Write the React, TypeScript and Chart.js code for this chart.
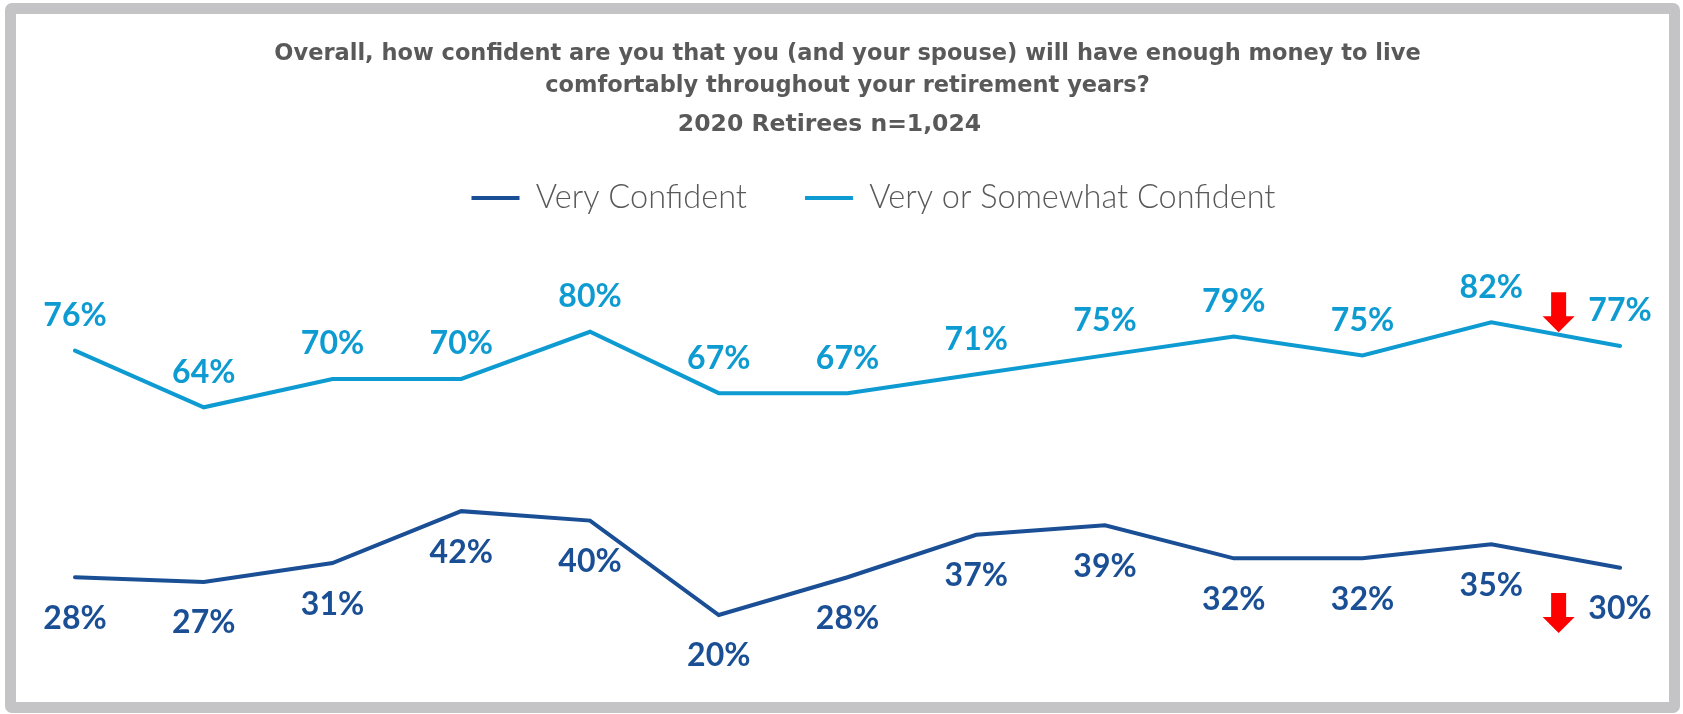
import React, { useEffect, useRef } from "react";
import { Chart, registerables } from "chart.js";

Chart.register(...registerables);

// ---- Data ----
const years = ["2008", "2009", "2010", "2011", "2012", "2013", "2014", "2015", "2016", "2017", "2018", "2019", "2020"];
const veryConfident = [28, 27, 31, 42, 40, 20, 28, 37, 39, 32, 32, 35, 30];
const veryOrSomewhatConfident = [76, 64, 70, 70, 80, 67, 67, 71, 75, 79, 75, 82, 77];
const seriesNames = ["Very Confident", "Very or Somewhat Confident"];
const titleLines = [
  "Overall, how confident are you that you (and your spouse) will have enough money to live",
  "comfortably throughout your retirement years?",
];
const subtitleText = "2020 Retirees n=1,024";
// decline arrows sit between the last two survey points
const declineFrom = 11;
const declineTo = 12;

const DARK = "#1A4F95";
const LIGHT = "#0E9BD1";
const GRAY = "#595959";
const FONT = "Lato, 'Open Sans', sans-serif";
const TITLE_FONT = "'DejaVu Sans', sans-serif";

const pointLabels = {
  id: "pointLabels",
  afterDatasetsDraw(chart: any) {
    const ctx = chart.ctx;
    chart.data.datasets.forEach((ds: any, di: number) => {
      const meta = chart.getDatasetMeta(di);
      const above = di === 1;
      ctx.save();
      ctx.font = `bold 32px ${FONT}`;
      ctx.fillStyle = ds.borderColor;
      ctx.textAlign = "center";
      ctx.textBaseline = "alphabetic";
      meta.data.forEach((pt: any, i: number) => {
        const cy = above ? pt.y - 36 : pt.y + 40;
        ctx.fillText(`${ds.data[i]}%`, pt.x, cy + 11.5);
      });
      ctx.restore();
    });
  },
};

function drawArrow(ctx: CanvasRenderingContext2D, x: number, tip: number) {
  const total = 40;
  const head = 16;
  const shaftW = 15;
  const headW = 32;
  ctx.beginPath();
  ctx.moveTo(x - shaftW / 2, tip - total);
  ctx.lineTo(x + shaftW / 2, tip - total);
  ctx.lineTo(x + shaftW / 2, tip - head);
  ctx.lineTo(x + headW / 2, tip - head);
  ctx.lineTo(x, tip);
  ctx.lineTo(x - headW / 2, tip - head);
  ctx.lineTo(x - shaftW / 2, tip - head);
  ctx.closePath();
  ctx.fill();
}

const declineArrows = {
  id: "declineArrows",
  afterDatasetsDraw(chart: any) {
    const ctx = chart.ctx;
    const xs = chart.scales.x;
    const ys = chart.scales.y;
    const x = xs.getPixelForValue((declineFrom + declineTo) / 2) + 3;
    const upperMid = (veryOrSomewhatConfident[declineFrom] + veryOrSomewhatConfident[declineTo]) / 2;
    const lowerMid = (veryConfident[declineFrom] + veryConfident[declineTo]) / 2;
    ctx.save();
    ctx.fillStyle = "#FF0000";
    drawArrow(ctx, x, ys.getPixelForValue(upperMid) - 2);
    drawArrow(ctx, x, ys.getPixelForValue(lowerMid) + 77);
    ctx.restore();
  },
};

const headerShift = {
  id: "headerShift",
  afterLayout(chart: any) {
    const lg = chart.legend;
    if (lg) {
      lg.left += 26;
      lg.right += 26;
    }
    (chart.boxes || []).forEach((b: any) => {
      if (b && b.options && b.options.text === subtitleText) {
        b.left -= 18;
        b.right -= 18;
      }
    });
  },
};

export default function App() {
  const canvasRef = useRef<HTMLCanvasElement | null>(null);

  useEffect(() => {
    if (!canvasRef.current) return;
    const chart = new Chart(canvasRef.current, {
      type: "line",
      data: {
        labels: years,
        datasets: [
          {
            label: seriesNames[0],
            data: veryConfident,
            borderColor: DARK,
            backgroundColor: DARK,
            borderWidth: 4,
            borderCapStyle: "round",
            pointRadius: 0,
            tension: 0,
          },
          {
            label: seriesNames[1],
            data: veryOrSomewhatConfident,
            borderColor: LIGHT,
            backgroundColor: LIGHT,
            borderWidth: 4,
            borderCapStyle: "round",
            pointRadius: 0,
            tension: 0,
          },
        ],
      },
      options: {
        responsive: false,
        animation: false,
        devicePixelRatio: 1,
        layout: { padding: { left: 75, right: 63, top: 0, bottom: 4.6 } },
        scales: {
          x: { display: false, offset: false },
          y: { display: false, min: 0, max: 102.8 },
        },
        plugins: {
          tooltip: { enabled: false },
          title: {
            display: true,
            text: titleLines,
            color: GRAY,
            font: { family: TITLE_FONT, size: 22.5, weight: "bold", lineHeight: 1.42 },
            padding: { top: 38, bottom: 0 },
          },
          subtitle: {
            display: true,
            text: subtitleText,
            color: GRAY,
            font: { family: TITLE_FONT, size: 23.5, weight: "bold", lineHeight: 1.2 },
            padding: { top: 8.4, bottom: -14.85 },
          },
          legend: {
            display: true,
            position: "top",
            labels: {
              usePointStyle: true,
              pointStyle: "line",
              pointStyleWidth: 48,
              padding: 58,
              color: GRAY,
              font: { family: FONT, size: 32.5, weight: "300" },
            },
          },
        },
      },
      plugins: [pointLabels, declineArrows, headerShift],
    });
    return () => chart.destroy();
  }, []);

  return (
    <div style={{ position: "absolute", left: 0, top: 0, width: 1683, height: 714, background: "#fff", overflow: "hidden" }}>
      <canvas ref={canvasRef} width={1683} height={714} style={{ display: "block", width: 1683, height: 714 }} />
      <div
        style={{
          position: "absolute",
          left: 5,
          top: 3,
          width: 1675,
          height: 710,
          border: "11px solid #C4C3C6",
          borderRadius: 7,
          boxSizing: "border-box",
          pointerEvents: "none",
        }}
      />
    </div>
  );
}
